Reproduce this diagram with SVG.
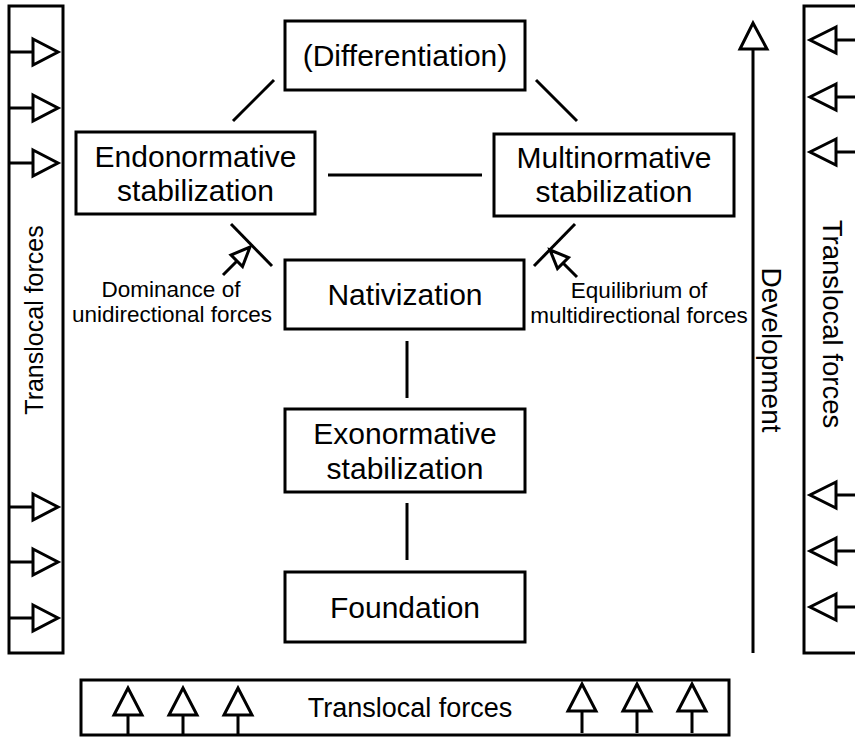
<svg xmlns="http://www.w3.org/2000/svg" width="855" height="737" viewBox="0 0 855 737">
<style>
.box{fill:#fff;stroke:#000;stroke-width:3}
.ln{fill:none;stroke:#000;stroke-width:3}
.ah{fill:#fff;stroke:#000;stroke-width:3;stroke-linejoin:miter}
.t{font-family:"Liberation Sans",Arial,sans-serif;font-size:30px;fill:#000;text-anchor:middle}
.s{font-family:"Liberation Sans",Arial,sans-serif;font-size:22.5px;fill:#000;text-anchor:middle}
</style>
<rect width="855" height="737" fill="#fff"/>

<g id="left-panel">
<rect class="box" x="9" y="6" width="54" height="647"/>
<g class="ln">
<path d="M9 52H33M9 108H33M9 163H33M9 507H33M9 562H33M9 618H33"/>
</g>
<polygon class="ah" points="33,39 58,52 33,65"/>
<polygon class="ah" points="33,95 58,108 33,121"/>
<polygon class="ah" points="33,150 58,163 33,176"/>
<polygon class="ah" points="33,494 58,507 33,520"/>
<polygon class="ah" points="33,549 58,562 33,575"/>
<polygon class="ah" points="33,605 58,618 33,631"/>
<text class="t" style="font-size:25px" transform="translate(43,320) rotate(-90)">Translocal forces</text>
</g>

<g id="right-panel">
<rect class="box" x="804" y="6" width="60" height="647"/>
<g class="ln">
<path d="M836 40H856M836 97H856M836 152H856M836 495H856M836 551H856M836 607H856"/>
</g>
<polygon class="ah" points="836,27 810,40 836,53"/>
<polygon class="ah" points="836,84 810,97 836,110"/>
<polygon class="ah" points="836,139 810,152 836,165"/>
<polygon class="ah" points="836,482 810,495 836,508"/>
<polygon class="ah" points="836,538 810,551 836,564"/>
<polygon class="ah" points="836,594 810,607 836,620"/>
<text class="t" style="font-size:27.5px" transform="translate(823,324) rotate(90)">Translocal forces</text>
</g>

<g id="bottom-panel">
<rect class="box" x="81" y="680" width="648" height="55"/>
<g class="ln">
<path d="M128 715V735M183 715V735M238 715V735M582 711V733M637 711V733M692 711V733"/>
</g>
<polygon class="ah" points="114,715 128,688 142,715"/>
<polygon class="ah" points="169,715 183,688 197,715"/>
<polygon class="ah" points="224,715 238,688 252,715"/>
<polygon class="ah" points="568,711 582,684 596,711"/>
<polygon class="ah" points="623,711 637,684 651,711"/>
<polygon class="ah" points="678,711 692,684 706,711"/>
<text class="t" style="font-size:27px" x="410" y="717">Translocal forces</text>
</g>

<g id="development">
<line class="ln" x1="753" y1="49" x2="753" y2="653"/>
<polygon class="ah" points="740,49 753,23 767,49"/>
<text class="t" style="font-size:28px" transform="translate(762,350) rotate(90)">Development</text>
</g>

<g id="connectors">
<g class="ln">
<line x1="274" y1="80" x2="233" y2="121"/>
<line x1="536" y1="80" x2="577" y2="121"/>
<line x1="328" y1="175" x2="482" y2="175"/>
<line x1="231" y1="224" x2="272" y2="266"/>
<line x1="575" y1="224" x2="534" y2="266"/>
<line x1="407" y1="341" x2="407" y2="398"/>
<line x1="407" y1="503" x2="407" y2="560"/>
<line x1="223" y1="275" x2="237" y2="261"/>
<line x1="577" y1="277" x2="563" y2="263"/>
</g>
<polygon class="ah" points="250,247 242.5,266.5 231,255"/>
<polygon class="ah" points="550,250 568.5,257.5 557.5,268.5"/>
</g>

<g id="node-differentiation">
<rect class="box" x="285" y="21" width="240" height="69"/>
<text class="t" x="405" y="66">(Differentiation)</text>
</g>
<g id="node-endonormative">
<rect class="box" x="76" y="132" width="239" height="82"/>
<text class="t" x="195.5" y="167">Endonormative</text>
<text class="t" x="195.5" y="201">stabilization</text>
</g>
<g id="node-multinormative">
<rect class="box" x="494" y="134" width="240" height="82"/>
<text class="t" x="614" y="168">Multinormative</text>
<text class="t" x="614" y="202">stabilization</text>
</g>
<g id="node-nativization">
<rect class="box" x="285" y="260" width="239" height="69"/>
<text class="t" x="405" y="305">Nativization</text>
</g>
<g id="node-exonormative">
<rect class="box" x="285" y="409" width="240" height="83"/>
<text class="t" x="405" y="444">Exonormative</text>
<text class="t" x="405" y="479">stabilization</text>
</g>
<g id="node-foundation">
<rect class="box" x="285" y="572" width="240" height="70"/>
<text class="t" x="405" y="618">Foundation</text>
</g>

<g id="label-dominance">
<text class="s" x="171" y="297">Dominance of</text>
<text class="s" x="172" y="322">unidirectional forces</text>
</g>
<g id="label-equilibrium">
<text class="s" x="639" y="298">Equilibrium of</text>
<text class="s" x="639" y="323">multidirectional forces</text>
</g>
</svg>
